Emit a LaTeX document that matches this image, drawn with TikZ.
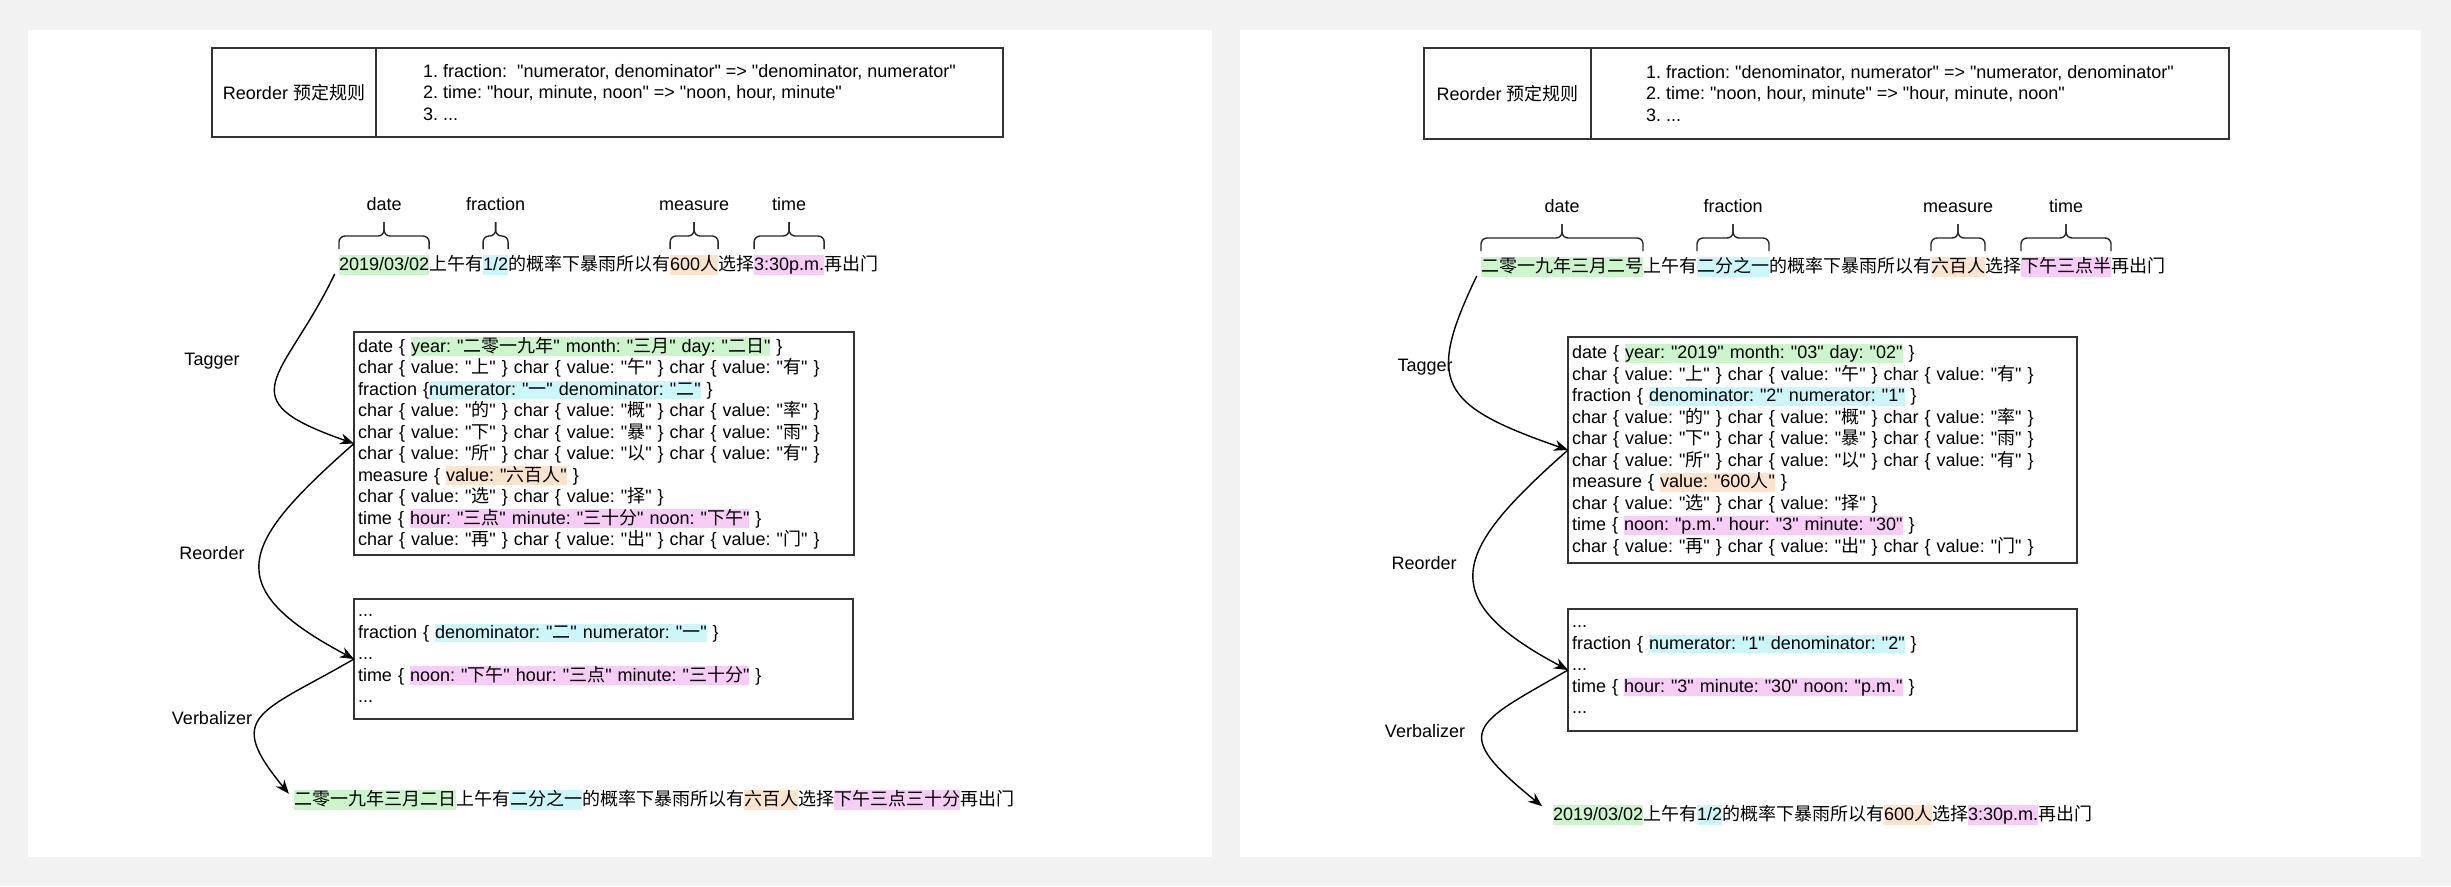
\documentclass[tikz,border=0pt]{standalone}
\usepackage{fontspec}
\setmainfont{Liberation Sans}[Ligatures=TeXOff]
\newfontfamily\zhfont{Noto Sans CJK SC}
\usetikzlibrary{positioning,arrows.meta}
\definecolor{bggray}{HTML}{F2F2F2}
\definecolor{linegray}{HTML}{333333}
\definecolor{hlgreen}{HTML}{CCF5CC}
\definecolor{hlcyan}{HTML}{CCF7FA}
\definecolor{hlorange}{HTML}{FCE4CC}
\definecolor{hlpink}{HTML}{F7CCF7}
\newcommand{\zh}[1]{{\zhfont #1}}
\newcommand{\hl}[2]{{\setlength{\fboxsep}{0pt}\colorbox{#1}{\rule[-4pt]{0pt}{18.5pt}#2}}}
\newcommand{\chr}[1]{char \{ value: "\zh{#1}" \}}
\newcommand{\segbrace}[2]{%
  \draw[brc] ([yshift=6pt]#1.north west) -- ([yshift=19pt]#1.north west) -- ([yshift=19pt]#1.north) -- ([yshift=33pt]#1.north);
  \draw[brc] ([yshift=6pt]#1.north east) -- ([yshift=19pt]#1.north east) -- ([yshift=19pt]#1.north) -- ([yshift=33pt]#1.north);
  \node[lbl] (#1tag) at ([yshift=49pt]#1.north) {#2};
}
\begin{document}
\frenchspacing
\begin{tikzpicture}[x=1pt,y=-1pt,font=\fontsize{18}{21.5}\selectfont,
    seg/.style={inner sep=0pt,outer sep=0pt,text height=15pt,text depth=5pt},
    lbl/.style={inner sep=2pt,text height=13pt,text depth=4pt},
    brc/.style={line width=1.4pt,draw=black!85,rounded corners=6pt},
    cell/.style={draw=linegray,line width=1.6pt,inner sep=0pt,outer sep=0pt,align=left},
    codebox/.style={draw=linegray,line width=1.6pt,align=left,inner xsep=4pt,inner ysep=0pt,outer sep=0pt,anchor=north west},
    flow/.style={line width=1.4pt,-{Stealth[length=14pt,width=11pt]}}]
  \fill[bggray] (0,0) rectangle (2451,886);
  \fill[white] (28,30) rectangle (1212,857);
  \fill[white] (1240,30) rectangle (2421,857);

  % left panel
  \node[cell,anchor=north west,minimum width=164pt,minimum height=89pt] (ruleL) at (212,48) {Reorder \zh{预定规则}};
  \node[cell,right=0pt of ruleL,minimum width=627pt,minimum height=89pt] (ruleLtext) {1. fraction:\ \ "numerator, denominator" => "denominator, numerator"\\2. time: "hour, minute, noon" => "noon, hour, minute"\\3. ...};

  \node[seg,fill=hlgreen,anchor=west] (dateL) at (339,265) {2019/03/02};
  \node[seg,right=0pt of dateL] (s1L) {\zh{上午有}};
  \node[seg,fill=hlcyan,right=0pt of s1L] (fracL) {1/2};
  \node[seg,right=0pt of fracL] (s2L) {\zh{的概率下暴雨所以有}};
  \node[seg,fill=hlorange,right=0pt of s2L] (measL) {600\zh{人}};
  \node[seg,right=0pt of measL] (s3L) {\zh{选择}};
  \node[seg,fill=hlpink,right=0pt of s3L] (timeL) {3:30p.m.};
  \node[seg,right=0pt of timeL] (s4L) {\zh{再出门}};
  \segbrace{dateL}{date}
  \segbrace{fracL}{fraction}
  \segbrace{measL}{measure}
  \segbrace{timeL}{time}

  \node[codebox,text width=492pt,minimum height=223pt] (tagL) at (354,332) {date \{ \hl{hlgreen}{year: "\zh{二零一九年}" month: "\zh{三月}" day: "\zh{二日}"} \}\\
    \chr{上} \chr{午} \chr{有}\\
    fraction \{\hl{hlcyan}{numerator: "\zh{一}" denominator: "\zh{二}"} \}\\
    \chr{的} \chr{概} \chr{率}\\
    \chr{下} \chr{暴} \chr{雨}\\
    \chr{所} \chr{以} \chr{有}\\
    measure \{ \hl{hlorange}{value: "\zh{六百人}"} \}\\
    \chr{选} \chr{择}\\
    time \{ \hl{hlpink}{hour: "\zh{三点}" minute: "\zh{三十分}" noon: "\zh{下午}"} \}\\
    \chr{再} \chr{出} \chr{门}};
  \node[codebox,text width=491pt,minimum height=120pt] (reoL) at (354,599) {...\\
    fraction \{ \hl{hlcyan}{denominator: "\zh{二}" numerator: "\zh{一}"} \}\\
    ...\\
    time \{ \hl{hlpink}{noon: "\zh{下午}" hour: "\zh{三点}" minute: "\zh{三十分}"} \}\\
    ...};

  \node[seg,fill=hlgreen,anchor=west] (odateL) at (294,800) {\zh{二零一九年三月二日}};
  \node[seg,right=0pt of odateL] (os1L) {\zh{上午有}};
  \node[seg,fill=hlcyan,right=0pt of os1L] (ofracL) {\zh{二分之一}};
  \node[seg,right=0pt of ofracL] (os2L) {\zh{的概率下暴雨所以有}};
  \node[seg,fill=hlorange,right=0pt of os2L] (omeasL) {\zh{六百人}};
  \node[seg,right=0pt of omeasL] (os3L) {\zh{选择}};
  \node[seg,fill=hlpink,right=0pt of os3L] (otimeL) {\zh{下午三点三十分}};
  \node[seg,right=0pt of otimeL] (os4L) {\zh{再出门}};

  \node (taggerL) at (212,361) {Tagger};
  \node (reorderL) at (212,553) {Reorder};
  \node (verbL) at (212,718) {Verbalizer};
  \draw[flow,shorten <=10pt] (dateL.west) .. controls +(-55,115) and +(-130,-45) .. (tagL.west);
  \draw[flow] (tagL.west) .. controls +(-112,99) and +(-138,-73) .. (reoL.west);
  \draw[flow,shorten >=8pt] (reoL.west) .. controls +(-95,55) and +(-70,-85) .. (odateL.west);

  % right panel
  \node[cell,anchor=north west,minimum width=167pt,minimum height=91pt] (ruleR) at (1424,48) {Reorder \zh{预定规则}};
  \node[cell,right=0pt of ruleR,minimum width=638pt,minimum height=91pt] (ruleRtext) {1. fraction: "denominator, numerator" => "numerator, denominator"\\2. time: "noon, hour, minute" => "hour, minute, noon"\\3. ...};

  \node[seg,fill=hlgreen,anchor=west] (dateR) at (1481,267) {\zh{二零一九年三月二号}};
  \node[seg,right=0pt of dateR] (s1R) {\zh{上午有}};
  \node[seg,fill=hlcyan,right=0pt of s1R] (fracR) {\zh{二分之一}};
  \node[seg,right=0pt of fracR] (s2R) {\zh{的概率下暴雨所以有}};
  \node[seg,fill=hlorange,right=0pt of s2R] (measR) {\zh{六百人}};
  \node[seg,right=0pt of measR] (s3R) {\zh{选择}};
  \node[seg,fill=hlpink,right=0pt of s3R] (timeR) {\zh{下午三点半}};
  \node[seg,right=0pt of timeR] (s4R) {\zh{再出门}};
  \segbrace{dateR}{date}
  \segbrace{fracR}{fraction}
  \segbrace{measR}{measure}
  \segbrace{timeR}{time}

  \node[codebox,text width=501pt,minimum height=226pt] (tagR) at (1568,337) {date \{ \hl{hlgreen}{year: "2019" month: "03" day: "02"} \}\\
    \chr{上} \chr{午} \chr{有}\\
    fraction \{ \hl{hlcyan}{denominator: "2" numerator: "1"} \}\\
    \chr{的} \chr{概} \chr{率}\\
    \chr{下} \chr{暴} \chr{雨}\\
    \chr{所} \chr{以} \chr{有}\\
    measure \{ \hl{hlorange}{value: "600\zh{人}"} \}\\
    \chr{选} \chr{择}\\
    time \{ \hl{hlpink}{noon: "p.m." hour: "3" minute: "30"} \}\\
    \chr{再} \chr{出} \chr{门}};
  \node[codebox,text width=501pt,minimum height=122pt] (reoR) at (1568,609) {...\\
    fraction \{ \hl{hlcyan}{numerator: "1" denominator: "2"} \}\\
    ...\\
    time \{ \hl{hlpink}{hour: "3" minute: "30" noon: "p.m."} \}\\
    ...};

  \node[seg,fill=hlgreen,anchor=west] (odateR) at (1553,815) {2019/03/02};
  \node[seg,right=0pt of odateR] (os1R) {\zh{上午有}};
  \node[seg,fill=hlcyan,right=0pt of os1R] (ofracR) {1/2};
  \node[seg,right=0pt of ofracR] (os2R) {\zh{的概率下暴雨所以有}};
  \node[seg,fill=hlorange,right=0pt of os2R] (omeasR) {600\zh{人}};
  \node[seg,right=0pt of omeasR] (os3R) {\zh{选择}};
  \node[seg,fill=hlpink,right=0pt of os3R] (otimeR) {3:30p.m.};
  \node[seg,right=0pt of otimeR] (os4R) {\zh{再出门}};

  \node (taggerR) at (1425,367) {Tagger};
  \node (reorderR) at (1424,563) {Reorder};
  \node (verbR) at (1425,731) {Verbalizer};
  \draw[flow,shorten <=10pt] (dateR.west) .. controls +(-55,115) and +(-130,-45) .. (tagR.west);
  \draw[flow] (tagR.west) .. controls +(-112,99) and +(-138,-73) .. (reoR.west);
  \draw[flow,shorten >=14pt] (reoR.west) .. controls +(-95,55) and +(-105,-85) .. (odateR.west);
\end{tikzpicture}
\end{document}
